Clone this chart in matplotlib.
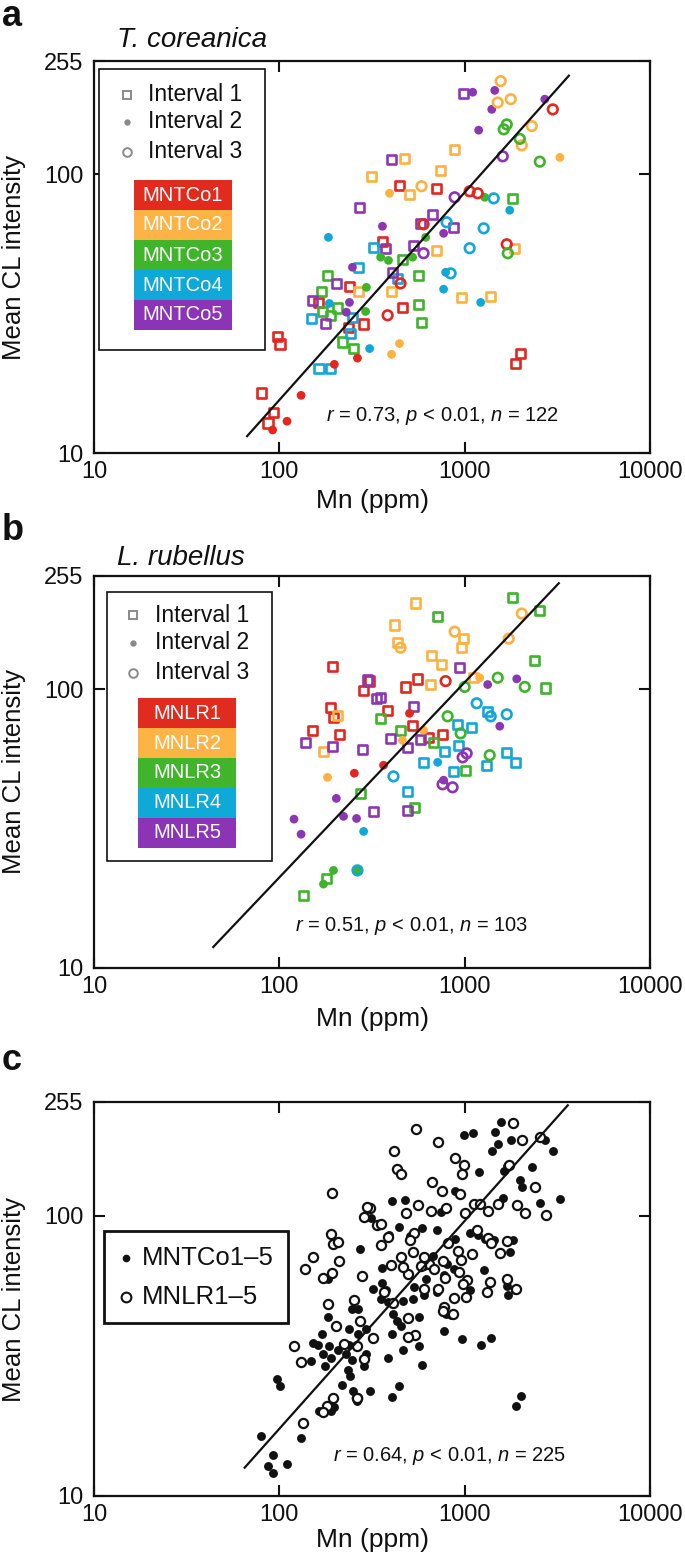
import matplotlib
matplotlib.use('Agg')
import matplotlib.pyplot as plt
import numpy as np
from matplotlib.patches import Rectangle

plt.rcParams['font.family'] = ['Liberation Sans', 'DejaVu Sans']
plt.rcParams['mathtext.fontset'] = 'custom'
plt.rcParams['mathtext.it'] = 'Liberation Sans:italic'
plt.rcParams['mathtext.rm'] = 'Liberation Sans'

# ---------------- data: panel a (T. coreanica, MNTCo1-5) ----------------
# interval 1 (squares)
a_i1_mn = [445, 706, 360, 239, 162, 462, 285, 236, 97.5, 101, 80, 93, 87, 2007, 1887,
           883, 474, 314, 742, 504, 706, 267, 403, 963, 1382, 1863,
           462, 182, 564, 169, 206, 171, 564, 189, 585, 219, 251, 1818,
           322, 267, 434, 149, 248, 242, 164, 189,
           988, 403, 271, 671, 578, 872, 374, 530, 408, 203, 151, 177]
a_i1_cl = [91, 89, 57.5, 39.6, 34.7, 33.3, 29.0, 28.2, 26.2, 24.6, 16.4, 14.0, 12.8, 22.8, 21.0,
           123, 114, 98.4, 103, 84.8, 53.4, 38.0, 38.0, 36.2, 36.5, 54.3,
           49.5, 43.4, 43.4, 38.0, 33.1, 32.2, 34.2, 31.2, 29.4, 25.0, 23.7, 82.0,
           54.7, 46.4, 42.3, 30.4, 30.7, 26.9, 20.1, 20.1,
           195, 113, 76.1, 71.9, 66.7, 64.5, 54.3, 55.6, 44.5, 40.6, 35.3, 29.2]
a_i1_smp = [1]*15 + [2]*11 + [3]*12 + [4]*8 + [5]*12
# interval 2 (dots)
a_i2_mn = [264, 198, 131, 110, 92,
           393, 445, 403, 3263,
           616, 352, 388, 524, 295, 292, 1283,
           184, 789, 770, 186, 307, 1750, 1220,
           360, 770, 248, 239, 230, 1105, 1453, 1400, 1190, 2706]
a_i2_cl = [21.9, 20.8, 16.1, 13.0, 12.1,
           85.5, 24.7, 22.6, 115,
           59.4, 50.4, 49.1, 50.4, 39.3, 32.2, 82.7,
           59.4, 44.5, 38.7, 34.4, 23.7, 74.3, 34.7,
           65.1, 61.4, 46.4, 34.7, 32.0, 197, 200, 171, 144, 186]
a_i2_smp = [1]*5 + [2]*4 + [3]*7 + [4]*7 + [5]*10
# interval 3 (open circles)
a_i3_mn = [600, 451, 384, 1064, 1176, 2990, 1687,
           585, 1565, 1773, 1508, 2302, 2033,
           1687, 1625, 1983, 2543, 1708,
           799, 840, 1435, 1267, 1064,
           883, 600, 1605]
a_i3_cl = [66.2, 40.6, 31.2, 86.9, 85.5, 171, 56.1,
           90.6, 216, 186, 181, 149, 127,
           151, 145, 134, 111, 52.1,
           67.3, 44.1, 82.0, 64.0, 54.3,
           82.7, 52.1, 116]
a_i3_smp = [1]*7 + [2]*6 + [3]*5 + [4]*5 + [5]*3

# ---------------- data: panel b (L. rubellus, MNLR1-5) ----------------
b_i1_mn = [193, 307, 285, 384, 189, 196, 151, 211, 557, 480, 524, 639, 760,
           206, 173, 543, 418, 988, 434, 963, 663, 751, 1119, 655,
           352, 274, 180, 135, 1818, 2543, 715, 2390, 2741, 451, 680, 1013, 537,
           1331, 917, 1091, 779, 928, 1687, 1887, 600, 872, 1315, 492,
           299, 335, 138, 193, 281, 398, 939, 352, 530, 578, 492, 322, 492]
b_i1_cl = [121, 107, 99.2, 84.1, 86.2, 79.3, 71.3, 69.0, 109, 102, 74.3, 67.3, 69.0,
           80.7, 59.9, 204, 170, 152, 147, 141, 132, 123, 110, 104,
           78.7, 42.3, 21.0, 18.2, 214, 192, 183, 127, 101, 71.3, 64.5, 51.2, 37.7,
           83.4, 74.9, 73.1, 59.9, 63.0, 59.4, 54.7, 54.7, 50.8, 53.4, 43.1,
           108, 92.8, 64.5, 62.4, 60.9, 66.7, 120, 93.6, 86.9, 66.2, 61.9, 36.5, 36.8]
b_i1_smp = [1]*13 + [2]*11 + [3]*13 + [4]*11 + [5]*13
b_i2_mn = [365, 254, 504,
           182, 1205, 600, 462,
           196, 173, 264,
           285, 715,
           203, 222, 261, 120, 131, 1910, 1331, 1546, 770]
b_i2_cl = [53.4, 50.0, 82.0,
           48.3, 110, 71.3, 65.6,
           22.4, 20.0, 22.4,
           30.9, 54.7,
           40.6, 35.0, 34.4, 34.2, 30.2, 109, 104, 73.7, 47.2]
b_i2_smp = [1]*3 + [2]*4 + [3]*3 + [4]*2 + [5]*9
b_i3_mn = [789,
           2033, 883, 1729, 451,
           1508, 2110, 1000, 809, 951, 1365,
           1161, 1382, 1687, 413, 264,
           1025, 975, 760, 861]
b_i3_cl = [107,
           187, 161, 152, 141,
           110, 102, 102, 80.0, 69.5, 58.0,
           89.1, 80.0, 81.3, 48.7, 22.4,
           58.9, 57.0, 45.6, 44.5]
b_i3_smp = [1] + [2]*4 + [3]*6 + [4]*5 + [5]*4

# regression lines (log10 CL = slope * log10 Mn + intercept)
fit_a = dict(slope=0.745, intercept=-0.300, xmin=67, xmax=3650)
fit_b = dict(slope=0.700, intercept=-0.075, xmin=44, xmax=3220)
fit_c = dict(slope=0.742, intercept=-0.244, xmin=65, xmax=3600)

stats_a = r'$r$ = 0.73, $p$ < 0.01, $n$ = 122'
stats_b = r'$r$ = 0.51, $p$ < 0.01, $n$ = 103'
stats_c = r'$r$ = 0.64, $p$ < 0.01, $n$ = 225'

a_samples = ['MNTCo1', 'MNTCo2', 'MNTCo3', 'MNTCo4', 'MNTCo5']
b_samples = ['MNLR1', 'MNLR2', 'MNLR3', 'MNLR4', 'MNLR5']
intervals = ['Interval 1', 'Interval 2', 'Interval 3']

x_ticks = [10, 100, 1000, 10000]
y_ticks = [10, 100, 255]

sample_colors = ['#E3261F', '#FDB240', '#3DB42A', '#12A7D8', '#8C36B4']
legend_box_colors = ['#E12B1F', '#FEB445', '#40B52C', '#0FA9D8', '#8B35B6']

# ---------------- figure ----------------
fig = plt.figure(figsize=(6.85, 15.6), dpi=100)
W, H = 685.0, 1560.0


def make_axes(top_px, bottom_px):
    ax = fig.add_axes([94 / W, 1 - bottom_px / H, 556 / W, (bottom_px - top_px) / H])
    ax.set_xscale('log')
    ax.set_yscale('log')
    ax.set_xlim(10, 10000)
    ax.set_ylim(10, 255)
    ax.set_xticks(x_ticks)
    ax.set_xticklabels([str(t) for t in x_ticks])
    ax.set_yticks(y_ticks)
    ax.set_yticklabels([str(t) for t in y_ticks])
    ax.minorticks_off()
    ax.tick_params(which='major', direction='in', length=8, width=1.5,
                   top=True, right=True, labelsize=17, colors='#111111')
    ax.tick_params(axis='x', pad=6)
    ax.tick_params(axis='y', pad=7.5)
    for s in ax.spines.values():
        s.set_linewidth(1.6)
        s.set_color('#111111')
    ax.set_xlabel('Mn (ppm)', fontsize=19, color='#111111')
    ax.set_ylabel('Mean CL intensity', fontsize=18.5, color='#111111')
    ax.yaxis.set_label_coords(-0.122, 0.5)
    return ax


def draw_fit(ax, fit):
    xs = np.array([fit['xmin'], fit['xmax']], dtype=float)
    ys = 10 ** fit['intercept'] * xs ** fit['slope']
    ax.plot(xs, ys, color='#111111', lw=1.6, zorder=4)


def draw_colored(ax, mn, cl, smp, kind):
    cols = [sample_colors[s - 1] for s in smp]
    if kind == 'square':
        ax.scatter(mn, cl, s=6.7 ** 2, marker='s', facecolors='none', edgecolors=cols,
                   linewidths=1.9, zorder=3)
    elif kind == 'dot':
        ax.scatter(mn, cl, s=6.3 ** 2, marker='o', c=cols, linewidths=0, zorder=3)
    else:
        ax.scatter(mn, cl, s=6.9 ** 2, marker='o', facecolors='none', edgecolors=cols,
                   linewidths=1.9, zorder=3)


def draw_legend_ab(ax, box, mk_x, txt_x, mk_y, cbox_x, cbox_y, cbox_tx, names):
    x0, x1, y0, y1 = box
    ax.add_patch(Rectangle((x0, y0), x1 - x0, y1 - y0, transform=ax.transAxes,
                           facecolor='white', edgecolor='#111111', lw=1.2, zorder=6,
                           clip_on=False))
    g = '#8a8a8a'
    ax.plot([mk_x], [mk_y[0]], marker='s', ms=5.8, mfc='none', mec=g, mew=1.4,
            transform=ax.transAxes, zorder=7, clip_on=False)
    ax.plot([mk_x], [mk_y[1]], marker='o', ms=4.6, mfc=g, mec='none',
            transform=ax.transAxes, zorder=7, clip_on=False)
    ax.plot([mk_x], [mk_y[2]], marker='o', ms=6.2, mfc='none', mec=g, mew=1.4,
            transform=ax.transAxes, zorder=7, clip_on=False)
    for lab, yy in zip(intervals, mk_y):
        ax.text(txt_x, yy, lab, transform=ax.transAxes, fontsize=16.5, va='center',
                ha='left', color='#111111', zorder=7)
    for i, name in enumerate(names):
        yt, yb = cbox_y[i], cbox_y[i + 1]
        ax.add_patch(Rectangle((cbox_x[0], yb), cbox_x[1] - cbox_x[0], yt - yb,
                               transform=ax.transAxes, facecolor=legend_box_colors[i],
                               edgecolor='none', zorder=7, clip_on=False))
        ax.text(cbox_tx, (yt + yb) / 2, name, transform=ax.transAxes, fontsize=14.5,
                color='white', ha='center', va='center', zorder=8)


# ---------- panel a ----------
axa = make_axes(61, 453)
draw_colored(axa, a_i1_mn, a_i1_cl, a_i1_smp, 'square')
draw_colored(axa, a_i2_mn, a_i2_cl, a_i2_smp, 'dot')
draw_colored(axa, a_i3_mn, a_i3_cl, a_i3_smp, 'circle')
draw_fit(axa, fit_a)
axa.text(0.626, 0.0944, stats_a, transform=axa.transAxes, fontsize=14.5,
         ha='center', va='center', color='#111111')
axa.xaxis.set_label_coords(0.5, -0.092)
draw_legend_ab(axa, (0.009, 0.3076, 0.2628, 0.9796), 0.0594, 0.0971,
               [0.9133, 0.8444, 0.7679], (0.0719, 0.2482),
               [0.6964, 0.6199, 0.5434, 0.4668, 0.3903, 0.3138], 0.1601, a_samples)

# ---------- panel b ----------
axb = make_axes(576, 968)
draw_colored(axb, b_i1_mn, b_i1_cl, b_i1_smp, 'square')
draw_colored(axb, b_i2_mn, b_i2_cl, b_i2_smp, 'dot')
draw_colored(axb, b_i3_mn, b_i3_cl, b_i3_smp, 'circle')
draw_fit(axb, fit_b)
axb.text(0.572, 0.107, stats_b, transform=axb.transAxes, fontsize=14.5,
         ha='center', va='center', color='#111111')
axb.xaxis.set_label_coords(0.5, -0.10)
draw_legend_ab(axb, (0.0234, 0.3201, 0.2730, 0.9592), 0.0701, 0.1097,
               [0.9005, 0.8291, 0.7526], (0.0791, 0.2554),
               [0.6888, 0.6122, 0.5357, 0.4592, 0.3827, 0.3061], 0.1673, b_samples)

# ---------- panel c ----------
axc = make_axes(1102, 1496)
c_dot_mn = a_i1_mn + a_i2_mn + a_i3_mn
c_dot_cl = a_i1_cl + a_i2_cl + a_i3_cl
c_circ_mn = b_i1_mn + b_i2_mn + b_i3_mn
c_circ_cl = b_i1_cl + b_i2_cl + b_i3_cl
axc.scatter(c_dot_mn, c_dot_cl, s=6.4 ** 2, marker='o', c='#111111', linewidths=0, zorder=3)
axc.scatter(c_circ_mn, c_circ_cl, s=6.6 ** 2, marker='o', facecolors='white',
            edgecolors='#111111', linewidths=1.6, zorder=3)
draw_fit(axc, fit_c)
axc.text(0.640, 0.1015, stats_c, transform=axc.transAxes, fontsize=14.5,
         ha='center', va='center', color='#111111')
axc.xaxis.set_label_coords(0.5, -0.081)
axc.add_patch(Rectangle((0.018, 0.4391), 0.349 - 0.018, 0.6726 - 0.4391,
                        transform=axc.transAxes, facecolor='white', edgecolor='#111111',
                        lw=2.0, zorder=6, clip_on=False))
axc.plot([0.0576], [0.604], marker='o', ms=5.5, mfc='#111111', mec='none',
         transform=axc.transAxes, zorder=7)
axc.plot([0.0576], [0.505], marker='o', ms=7.0, mfc='white', mec='#111111', mew=1.5,
         transform=axc.transAxes, zorder=7)
axc.text(0.0863, 0.604, 'MNTCo1\u20135', transform=axc.transAxes, fontsize=18.5,
         va='center', ha='left', color='#111111', zorder=7)
axc.text(0.0863, 0.505, 'MNLR1\u20135', transform=axc.transAxes, fontsize=18.5,
         va='center', ha='left', color='#111111', zorder=7)

# ---------- panel letters and titles ----------
for lab, py in [('a', 17), ('b', 530), ('c', 1060)]:
    fig.text(2 / W, 1 - py / H, lab, fontsize=26, fontweight='bold', ha='left',
             va='center', color='#111111')
fig.text(117 / W, 1 - 40 / H, 'T. coreanica', fontsize=20, style='italic',
         ha='left', va='center', color='#111111')
fig.text(117 / W, 1 - 558 / H, 'L. rubellus', fontsize=20, style='italic',
         ha='left', va='center', color='#111111')

fig.savefig('out.png', dpi=100)
